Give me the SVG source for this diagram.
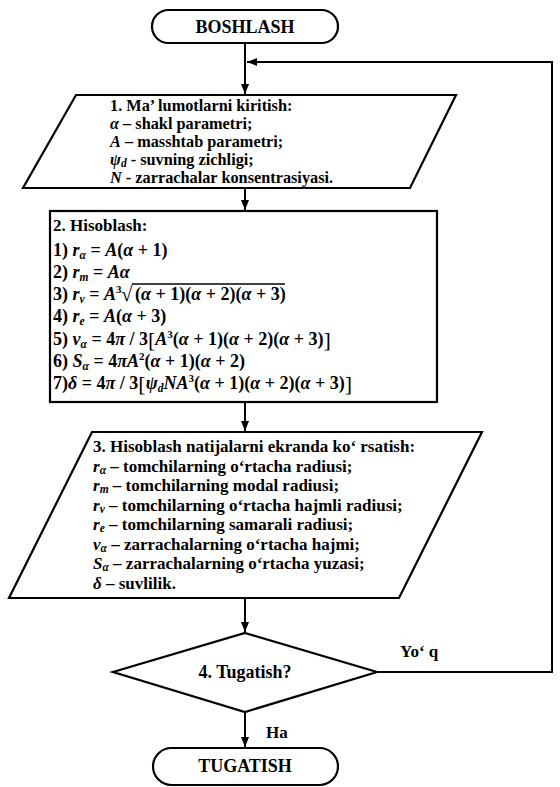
<svg xmlns="http://www.w3.org/2000/svg" width="560" height="787" viewBox="0 0 560 787">
<defs>
<style>
.t{font-family:"Liberation Serif","Times New Roman",serif;font-size:17px;font-weight:bold;fill:#000}
.n{font-size:16.3px}
.f{font-size:18px}
.c{text-anchor:middle;font-size:18px}
.i{font-style:italic}
.s{font-size:11.5px}
.p{font-size:11px}
.b{font-size:22px;font-weight:normal}
.sh{fill:#fff;stroke:#000;stroke-width:2.2;stroke-linejoin:miter}
.cn{fill:none;stroke:#000;stroke-width:2}
</style>
<marker id="ah" viewBox="0 0 10 8" refX="10" refY="4" markerWidth="10" markerHeight="8" markerUnits="userSpaceOnUse" orient="auto">
<path d="M0,0 L10,4 L0,8 z" fill="#000"/>
</marker>
</defs>
<rect width="560" height="787" fill="#fff"/>

<g id="connectors">
<path class="cn" d="M245,43 V94" marker-end="url(#ah)"/>
<path class="cn" d="M377,672 H552 V62 H247" marker-end="url(#ah)"/>
<path class="cn" d="M245,188 V210" marker-end="url(#ah)"/>
<path class="cn" d="M245,402 V431" marker-end="url(#ah)"/>
<path class="cn" d="M245,598 V632" marker-end="url(#ah)"/>
<path class="cn" d="M245,712 V747" marker-end="url(#ah)"/>
<text class="t" x="400" y="657">Yo‘ q</text>
<text class="t" x="266" y="738">Ha</text>
</g>

<g id="start">
<rect class="sh" x="152" y="10" width="186" height="33" rx="16.5"/>
<text class="t c" x="245" y="33">BOSHLASH</text>
</g>

<g id="input">
<polygon class="sh" points="76,95 456,95 410,188 23,188"/>
<text class="t n" x="110" y="111">1. Ma’ lumotlarni kiritish:</text>
<text class="t n" x="110" y="129"><tspan class="i">α</tspan> – shakl parametri;</text>
<text class="t n" x="110" y="147"><tspan class="i">A</tspan> – masshtab parametri;</text>
<text class="t n" x="110" y="165"><tspan class="i">ψ</tspan><tspan class="i s" dy="2">d</tspan><tspan dy="-2"> - suvning zichligi;</tspan></text>
<text class="t n" x="110" y="183"><tspan class="i">N</tspan> - zarrachalar konsentrasiyasi.</text>
</g>

<g id="compute">
<rect class="sh" x="50" y="211" width="387" height="191"/>
<text class="t" x="53" y="231">2. Hisoblash:</text>
<text class="t f" x="53" y="256">1) <tspan class="i">r</tspan><tspan class="i s" dy="3">α</tspan><tspan dy="-3"> = </tspan><tspan class="i">A</tspan>(<tspan class="i">α</tspan> + 1)</text>
<text class="t f" x="53" y="278">2) <tspan class="i">r</tspan><tspan class="i s" dy="3">m</tspan><tspan dy="-3"> = </tspan><tspan class="i">Aα</tspan></text>
<text class="t f" x="53" y="300">3) <tspan class="i">r</tspan><tspan class="i s" dy="3">v</tspan><tspan dy="-3"> = </tspan><tspan class="i">A</tspan><tspan class="p" dy="-7">3</tspan></text>
<text class="t" x="121" y="301" style="font-size:21px;font-weight:normal">√</text>
<line x1="132" y1="284" x2="285" y2="284" stroke="#000" stroke-width="1.4"/>
<text class="t f" x="135" y="300">(<tspan class="i">α</tspan> + 1)(<tspan class="i">α</tspan> + 2)(<tspan class="i">α</tspan> + 3)</text>
<text class="t f" x="53" y="322">4) <tspan class="i">r</tspan><tspan class="i s" dy="3">e</tspan><tspan dy="-3"> = </tspan><tspan class="i">A</tspan>(<tspan class="i">α</tspan> + 3)</text>
<text class="t f" x="53" y="345">5) <tspan class="i">v</tspan><tspan class="i s" dy="3">α</tspan><tspan dy="-3"> = 4</tspan><tspan class="i">π</tspan> / 3<tspan class="b" dy="2">[</tspan><tspan class="i" dy="-2">A</tspan><tspan class="p" dy="-7">3</tspan><tspan dy="7">(</tspan><tspan class="i">α</tspan> + 1)(<tspan class="i">α</tspan> + 2)(<tspan class="i">α</tspan> + 3)<tspan class="b" dy="2">]</tspan></text>
<text class="t f" x="53" y="367">6) <tspan class="i">S</tspan><tspan class="i s" dy="3">α</tspan><tspan dy="-3"> = 4</tspan><tspan class="i">πA</tspan><tspan class="p" dy="-7">2</tspan><tspan dy="7">(</tspan><tspan class="i">α</tspan> + 1)(<tspan class="i">α</tspan> + 2)</text>
<text class="t f" x="53" y="389">7)<tspan class="i">δ</tspan> = 4<tspan class="i">π</tspan> / 3<tspan class="b" dy="2">[</tspan><tspan class="i" dy="-2">ψ</tspan><tspan class="i s" dy="3">d</tspan><tspan class="i" dy="-3">NA</tspan><tspan class="p" dy="-7">3</tspan><tspan dy="7">(</tspan><tspan class="i">α</tspan> + 1)(<tspan class="i">α</tspan> + 2)(<tspan class="i">α</tspan> + 3)<tspan class="b" dy="2">]</tspan></text>
</g>

<g id="output">
<polygon class="sh" points="92,432 482,432 399,598 9,598"/>
<text class="t" x="93" y="452">3. Hisoblash natijalarni ekranda ko‘ rsatish:</text>
<text class="t" x="93" y="471.5"><tspan class="i">r</tspan><tspan class="i s" dy="2">α</tspan><tspan dy="-2"> – tomchilarning o‘rtacha radiusi;</tspan></text>
<text class="t" x="93" y="491"><tspan class="i">r</tspan><tspan class="i s" dy="2">m</tspan><tspan dy="-2"> – tomchilarning modal radiusi;</tspan></text>
<text class="t" x="93" y="510.5"><tspan class="i">r</tspan><tspan class="i s" dy="2">v</tspan><tspan dy="-2"> – tomchilarning o‘rtacha hajmli radiusi;</tspan></text>
<text class="t" x="93" y="530"><tspan class="i">r</tspan><tspan class="i s" dy="2">e</tspan><tspan dy="-2"> – tomchilarning samarali radiusi;</tspan></text>
<text class="t" x="93" y="549.5"><tspan class="i">v</tspan><tspan class="i s" dy="2">α</tspan><tspan dy="-2"> – zarrachalarning o‘rtacha hajmi;</tspan></text>
<text class="t" x="93" y="569"><tspan class="i">S</tspan><tspan class="i s" dy="2">α</tspan><tspan dy="-2"> – zarrachalarning o‘rtacha yuzasi;</tspan></text>
<text class="t" x="93" y="588.5"><tspan class="i">δ</tspan> – suvlilik.</text>
</g>

<g id="decision">
<polygon class="sh" points="245,633 377,672 245,712 113,672"/>
<text class="t c" x="245" y="678">4. Tugatish?</text>
</g>

<g id="end">
<rect class="sh" x="153" y="748" width="185" height="37" rx="18.5"/>
<text class="t c" x="245" y="772">TUGATISH</text>
</g>
</svg>
